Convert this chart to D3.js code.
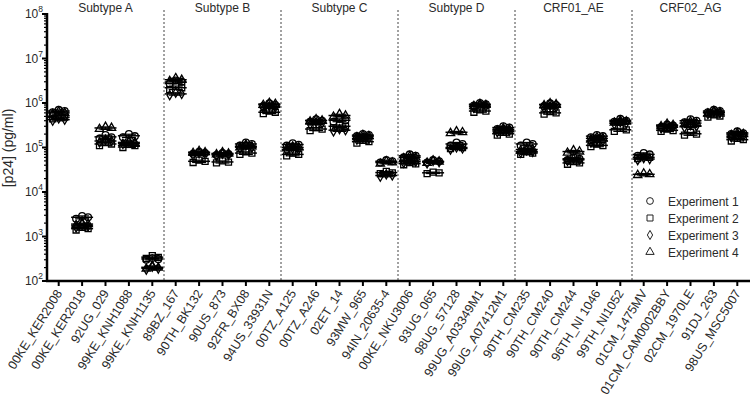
<!DOCTYPE html>
<html><head><meta charset="utf-8">
<script src="https://cdn.jsdelivr.net/npm/d3@7"></script>
<style>body{margin:0;background:#fff}svg{display:block}text{font-family:Arial,"Liberation Sans",sans-serif;fill:#2a2a2a}</style>
</head><body>
<script>
const groups = ["Subtype A","Subtype B","Subtype C","Subtype D","CRF01_AE","CRF02_AG"];
const strains = ["00KE_KER2008","00KE_KER2018","92UG_029","99KE_KNH1088","99KE_KNH1135",
 "89BZ_167","90TH_BK132","90US_873","92FR_BX08","94US_33931N",
 "00TZ_A125","00TZ_A246","02ET_14","93MW_965","94IN_20635-4",
 "00KE_NKU3006","93UG_065","98UG_57128","99UG_A03349M1","99UG_A07412M1",
 "90TH_CM235","90TH_CM240","90TH_CM244","96TH_NI 1046","99TH_NI1052",
 "01CM_1475MV","01CM_CAM0002BBY","02CM_1970LE","91DJ_263","98US_MSC5007"];
const strainGroup = [0,0,0,0,0,1,1,1,1,1,2,2,2,2,2,3,3,3,3,3,4,4,4,4,4,5,5,5,5,5];
const experiments = ["Experiment 1","Experiment 2","Experiment 3","Experiment 4"];
const yTicks = [1e2,1e3,1e4,1e5,1e6,1e7,1e8];
const exp1 = [[6.2e5,7.0e5,6.6e5],[2.5e3,2.9e3,2.7e3],[1.6e5,1.9e5,1.7e5],[1.7e5,2.0e5,1.8e5],[3.0e2,3.3e2,3.1e2],
 [2.7e6,3.2e6,3.0e6],[7.2e4,8.0e4,7.5e4],[6.8e4,7.5e4,7.1e4],[1.1e5,1.3e5,1.2e5],[8.5e5,9.8e5,9.0e5],
 [1.1e5,1.25e5,1.15e5],[3.8e5,4.3e5,4.0e5],[3.8e5,4.4e5,4.1e5],[1.8e5,2.0e5,1.9e5],[4.6e4,5.2e4,4.9e4],
 [6.0e4,7.0e4,6.5e4],[4.6e4,5.2e4,4.9e4],[1.1e5,1.3e5,1.2e5],[8.8e5,1.0e6,9.4e5],[2.6e5,3.0e5,2.8e5],
 [1.1e5,1.3e5,1.2e5],[8.5e5,9.8e5,9.0e5],[5.2e4,6.0e4,5.6e4],[1.7e5,1.9e5,1.8e5],[3.8e5,4.4e5,4.0e5],
 [6.5e4,7.5e4,7.0e4],[2.9e5,3.3e5,3.1e5],[3.7e5,4.3e5,4.0e5],[6.2e5,7.0e5,6.6e5],[2.0e5,2.3e5,2.1e5]];
const exp2 = [[4.4e5,5.2e5,4.8e5],[1.4e3,1.6e3,1.5e3],[1.1e5,1.3e5,1.2e5],[1.0e5,1.2e5,1.1e5],[3.2e2,3.7e2,3.4e2],
 [2.0e6,2.4e6,2.2e6],[4.6e4,5.2e4,4.9e4],[4.5e4,5.0e4,4.7e4],[7.0e4,8.0e4,7.5e4],[5.8e5,6.6e5,6.2e5],
 [6.5e4,7.5e4,7.0e4],[2.4e5,2.8e5,2.6e5],[2.8e5,3.2e5,3.0e5],[1.25e5,1.45e5,1.35e5],[2.6e4,2.9e4,2.7e4],
 [4.1e4,4.6e4,4.3e4],[2.6e4,2.8e4,2.7e4],[9.5e4,1.05e5,1.0e5],[6.2e5,7.0e5,6.6e5],[1.9e5,2.2e5,2.0e5],
 [7.0e4,8.0e4,7.5e4],[5.6e5,6.4e5,6.0e5],[4.2e4,4.8e4,4.5e4],[1.05e5,1.2e5,1.1e5],[2.3e5,2.7e5,2.5e5],
 [5.6e4,6.4e4,6.0e4],[2.3e5,2.6e5,2.4e5],[1.9e5,2.2e5,2.0e5],[4.8e5,5.4e5,5.1e5],[1.4e5,1.6e5,1.5e5]];
const exp3 = [[4.0e5,4.5e5,4.2e5],[1.6e3,1.9e3,1.7e3],[1.3e5,1.5e5,1.4e5],[1.2e5,1.4e5,1.3e5],[1.8e2,2.1e2,1.9e2],
 [1.5e6,1.7e6,1.6e6],[6.6e4,7.4e4,7.0e4],[6.4e4,7.2e4,6.8e4],[9.5e4,1.1e5,1.0e5],[7.5e5,8.5e5,8.0e5],
 [8.5e4,9.5e4,9.0e4],[3.3e5,3.7e5,3.5e5],[2.3e5,2.6e5,2.45e5],[1.5e5,1.7e5,1.6e5],[2.2e4,2.5e4,2.35e4],
 [4.5e4,5.1e4,4.8e4],[4.4e4,5.0e4,4.7e4],[9.0e4,1.0e5,9.5e4],[7.8e5,8.8e5,8.3e5],[2.2e5,2.5e5,2.35e5],
 [7.6e4,8.6e4,8.0e4],[7.5e5,8.5e5,8.0e5],[5.0e4,5.6e4,5.3e4],[1.3e5,1.5e5,1.4e5],[3.3e5,3.7e5,3.5e5],
 [5.2e4,5.8e4,5.5e4],[2.7e5,3.1e5,2.9e5],[2.8e5,3.2e5,3.0e5],[5.6e5,6.4e5,6.0e5],[1.7e5,1.9e5,1.8e5]];
const exp4 = [[5.6e5,6.4e5,6.0e5],[1.8e3,2.0e3,1.9e3],[2.6e5,2.9e5,2.75e5],[1.15e5,1.3e5,1.2e5],[1.9e2,2.2e2,2.0e2],
 [3.1e6,3.6e6,3.3e6],[7.5e4,8.3e4,7.8e4],[7.0e4,7.8e4,7.3e4],[1.0e5,1.15e5,1.05e5],[9.0e5,1.0e6,9.5e5],
 [9.5e4,1.05e5,1.0e5],[3.8e5,4.3e5,4.0e5],[4.9e5,5.6e5,5.2e5],[1.7e5,1.9e5,1.8e5],[4.3e4,4.9e4,4.6e4],
 [5.7e4,6.3e4,6.0e4],[4.5e4,5.1e4,4.8e4],[2.1e5,2.3e5,2.2e5],[8.5e5,9.5e5,9.0e5],[2.4e5,2.7e5,2.55e5],
 [8.5e4,9.5e4,9.0e4],[8.8e5,9.8e5,9.3e5],[7.6e4,8.6e4,8.1e4],[1.5e5,1.7e5,1.6e5],[3.6e5,4.0e5,3.8e5],
 [2.4e4,2.6e4,2.5e4],[3.0e5,3.4e5,3.2e5],[3.3e5,3.8e5,3.5e5],[5.8e5,6.6e5,6.2e5],[1.9e5,2.1e5,2.0e5]];
const expData = [exp1, exp2, exp3, exp4];

const W = 755, H = 404;
const svg = d3.select("body").append("svg").attr("width", W).attr("height", H);
const x = d3.scaleBand().domain(strains).range([47, 749]);
const y = d3.scaleLog().domain([1e2, 1e8]).range([281, 14]);
const repX = d3.scalePoint().domain([0,1,2]).range([-6, 6]);
const cx = s => x(s) + x.bandwidth() / 2;

// dividers
for (let i = 1; i < strains.length; i++) {
  if (strainGroup[i] !== strainGroup[i-1]) {
    const xd = x(strains[i]);
    svg.append("line").attr("x1", xd).attr("x2", xd).attr("y1", 10).attr("y2", 281)
      .attr("stroke", "#444").attr("stroke-width", 1).attr("stroke-dasharray", "2,2");
  }
}
// group labels
groups.forEach((g, gi) => {
  const members = strains.filter((s, i) => strainGroup[i] === gi);
  const mid = (cx(members[0]) + cx(members[members.length-1])) / 2;
  svg.append("text").attr("x", mid).attr("y", 12).attr("text-anchor", "middle")
    .attr("font-size", 12).text(g);
});

// y axis
const yAxisG = svg.append("g").attr("transform", "translate(47,0)");
yAxisG.append("line").attr("x1", 0).attr("x2", 0).attr("y1", y(1e8) - 1).attr("y2", y(1e2) + 1)
  .attr("stroke", "#000").attr("stroke-width", 2.5);
const minor = [];
for (let e = 2; e < 8; e++) for (let m = 2; m <= 9; m++) minor.push(m * Math.pow(10, e));
yAxisG.selectAll(".mn").data(minor).enter().append("line")
  .attr("x1", -3).attr("x2", 0).attr("y1", d => y(d)).attr("y2", d => y(d))
  .attr("stroke", "#000").attr("stroke-width", 1.2);
yAxisG.selectAll(".mj").data(yTicks).enter().append("line")
  .attr("x1", -5).attr("x2", 0).attr("y1", d => y(d)).attr("y2", d => y(d))
  .attr("stroke", "#000").attr("stroke-width", 2);
const yl = yAxisG.selectAll(".yl").data(yTicks).enter().append("text")
  .attr("x", -4).attr("y", d => y(d) + 4).attr("text-anchor", "end").attr("font-size", 12);
yl.append("tspan").text("10");
yl.append("tspan").attr("dy", -6).attr("font-size", 8.5).text(d => Math.round(Math.log10(d)));

svg.append("text").attr("transform", "translate(13,148) rotate(-90)").attr("text-anchor", "middle")
  .attr("font-size", 14).text("[p24] (pg/ml)");

// x axis
svg.append("line").attr("x1", 46).attr("x2", 750).attr("y1", 281).attr("y2", 281)
  .attr("stroke", "#000").attr("stroke-width", 2.5);
svg.selectAll(".xt").data(strains).enter().append("line")
  .attr("x1", d => cx(d)).attr("x2", d => cx(d)).attr("y1", 281).attr("y2", 286)
  .attr("stroke", "#000").attr("stroke-width", 2);
svg.selectAll(".xl").data(strains).enter().append("text")
  .attr("text-anchor", "end").attr("font-size", 12.5)
  .attr("transform", d => `translate(${cx(d) + 4},${293}) rotate(-58)`).text(d => d);

// symbols
const symTypes = [d3.symbolCircle, d3.symbolSquare, d3.symbolDiamond, d3.symbolTriangle];
const symSizes = [36, 36, 24, 30];
const symbol = i => d3.symbol().type(symTypes[i]).size(symSizes[i])();

const plot = svg.append("g");
expData.forEach((arr, ei) => {
  arr.forEach((vals, si) => {
    const s = strains[si];
    const g = plot.append("g");
    g.selectAll("path").data(vals).enter().append("path")
      .attr("d", symbol(ei))
      .attr("transform", (v, k) => `translate(${cx(s) + repX(k)},${y(v)})`)
      .attr("fill", "none").attr("stroke", "#000").attr("stroke-width", 1.3);
    const m = d3.mean(vals), sd = d3.deviation(vals);
    const lo = Math.max(m - sd, 1e2), hi = m + sd;
    g.append("line").attr("x1", cx(s) - 11).attr("x2", cx(s) + 11).attr("y1", y(m)).attr("y2", y(m))
      .attr("stroke", "#000").attr("stroke-width", 1.5);
    g.append("line").attr("x1", cx(s)).attr("x2", cx(s)).attr("y1", y(lo)).attr("y2", y(hi))
      .attr("stroke", "#000").attr("stroke-width", 1.2);
    [lo, hi].forEach(v => g.append("line").attr("x1", cx(s) - 7).attr("x2", cx(s) + 7)
      .attr("y1", y(v)).attr("y2", y(v)).attr("stroke", "#000").attr("stroke-width", 1.2));
  });
});

// legend
const leg = svg.append("g");
experiments.forEach((e, i) => {
  const ly = 201 + i * 17;
  leg.append("path").attr("d", symbol(i)).attr("transform", `translate(650,${ly})`)
    .attr("fill", "none").attr("stroke", "#222").attr("stroke-width", 1);
  leg.append("text").attr("x", 668).attr("y", ly + 4.5).attr("font-size", 12).text(e);
});
</script>
</body></html>
